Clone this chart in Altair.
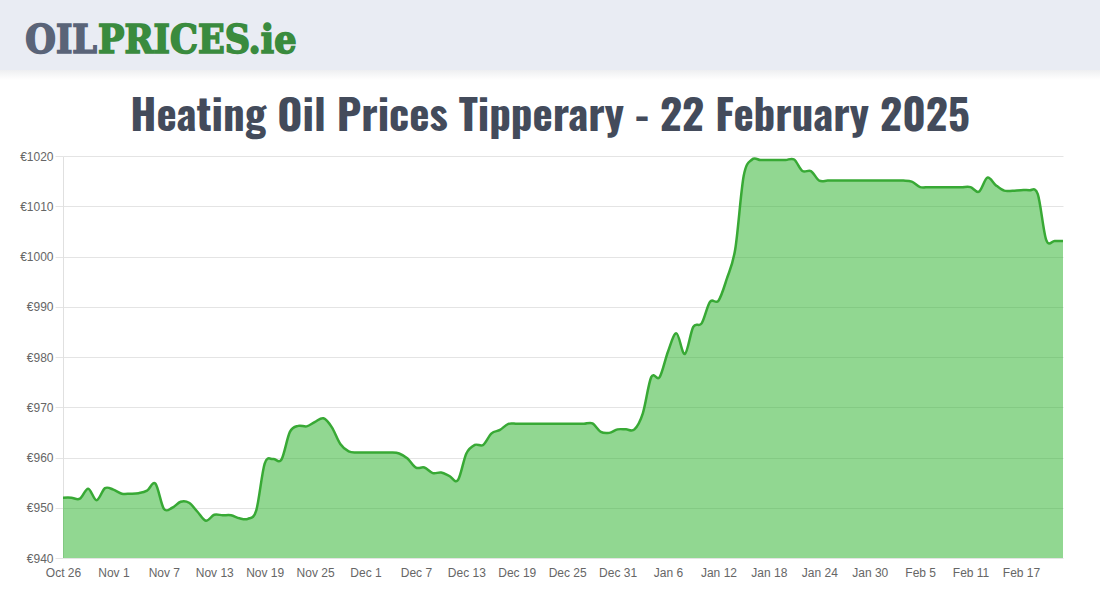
import altair as alt
import pandas as pd

# ---- data ----
start_date = "2024-10-26"
prices = [
    952, 952, 951.8, 953.8, 951.5, 953.9,            # Oct 26 - Oct 31
    953.6, 952.8, 952.8, 952.9, 953.4, 954.8,        # Nov 1 - Nov 6
    949.8, 950, 951.2, 951, 949.2, 947.4,            # Nov 7 - Nov 12
    948.6, 948.5, 948.5, 947.9, 947.8, 949.5,        # Nov 13 - Nov 18
    958.8, 959.7, 959.6, 965.1, 966.3, 966.2,        # Nov 19 - Nov 24
    967.1, 967.8, 966, 962.7, 961.2, 961,            # Nov 25 - Nov 30
    961, 961, 961, 961, 960.8, 959.8,                # Dec 1 - Dec 6
    958, 958, 956.9, 957, 956.3, 955.5,              # Dec 7 - Dec 12
    960.8, 962.5, 962.5, 964.8, 965.5, 966.7,        # Dec 13 - Dec 18
    966.7, 966.7, 966.7, 966.7, 966.7, 966.7,        # Dec 19 - Dec 24
    966.7, 966.7, 966.7, 966.8, 965.1, 964.9,        # Dec 25 - Dec 30
    965.6, 965.6, 965.6, 968.8, 976, 976,            # Dec 31 - Jan 5
    981.1, 984.7, 980.6, 986, 986.7, 991,            # Jan 6 - Jan 11
    991.2, 995.6, 1001.5, 1016, 1019.3, 1019.2,      # Jan 12 - Jan 17
    1019.2, 1019.2, 1019.2, 1019.3, 1017, 1017,      # Jan 18 - Jan 23
    1015.1, 1015.1, 1015.1, 1015.1, 1015.1, 1015.1,  # Jan 24 - Jan 29
    1015.1, 1015.1, 1015.1, 1015.1, 1015.1, 1014.9,  # Jan 30 - Feb 4
    1013.8, 1013.8, 1013.8, 1013.8, 1013.8, 1013.8,  # Feb 5 - Feb 10
    1013.8, 1012.9, 1015.7, 1014.2, 1013.1, 1013.1,  # Feb 11 - Feb 16
    1013.2, 1013.2, 1012.4, 1003.3, 1003.1, 1003.1,  # Feb 17 - Feb 22
]
tick_dates = [
    "2024-10-26", "2024-11-01", "2024-11-07", "2024-11-13", "2024-11-19",
    "2024-11-25", "2024-12-01", "2024-12-07", "2024-12-13", "2024-12-19",
    "2024-12-25", "2024-12-31", "2025-01-06", "2025-01-12", "2025-01-18",
    "2025-01-24", "2025-01-30", "2025-02-05", "2025-02-11", "2025-02-17",
]
y_ticks = [940, 950, 960, 970, 980, 990, 1000, 1010, 1020]
title_text = "Heating Oil Prices Tipperary - 22 February 2025"
logo_left = "OIL"
logo_right = "PRICES.ie"

dates = pd.date_range(start_date, periods=len(prices), freq="D")
df = pd.DataFrame({"date": dates.strftime("%Y-%m-%d"), "price": prices})


def ms(d):
    return int(pd.Timestamp(d, tz="UTC").timestamp() * 1000)


tick_ms = [ms(d) for d in tick_dates]
x_domain = [ms(dates[0].strftime("%Y-%m-%d")), ms(dates[-1].strftime("%Y-%m-%d"))]

W, H = 1000, 402
LEFT, TOP = 63, 156   # where the plot area sits on the page

x_enc = alt.X(
    "date:T",
    scale=alt.Scale(type="utc", domain=x_domain, nice=False),
    axis=alt.Axis(
        values=tick_ms, format="%b %-d", labelFlush=False, grid=False,
        ticks=False, domain=False, title=None, labelPadding=9,
        labelFont="Liberation Sans", labelFontSize=12, labelColor="#666666",
        labelOverlap=False,
    ),
)
y_enc = alt.Y(
    "price:Q",
    scale=alt.Scale(domain=[940, 1020], nice=False, zero=False),
    axis=alt.Axis(
        values=y_ticks, labelExpr="'€' + datum.value", grid=True,
        gridColor="#e4e4e4", gridWidth=1, tickColor="#e4e4e4", tickSize=8,
        domain=True, domainColor="#e0e0e0", title=None, labelPadding=2,
        labelFont="Liberation Sans", labelFontSize=12, labelColor="#666666",
    ),
)

area = alt.Chart(df).mark_area(
    interpolate="cardinal", color="#24af24", opacity=0.5
).encode(x=x_enc, y=y_enc, y2=alt.datum(940))

line = alt.Chart(df).mark_line(
    interpolate="cardinal", color="#38a935", strokeWidth=2.5
).encode(x="date:T", y="price:Q")

one = alt.Data(values=[{"k": 1}])

header = alt.Chart(one).mark_rect(color="#e9ecf3").encode(
    x=alt.value(-LEFT), x2=alt.value(1100 - LEFT),
    y=alt.value(-TOP), y2=alt.value(70 - TOP),
)
shadow = alt.Chart(one).mark_rect(
    color=alt.LinearGradient(
        gradient="linear",
        stops=[alt.GradientStop(color="#eeeff1", offset=0),
               alt.GradientStop(color="#ffffff", offset=1)],
        x1=0, x2=0, y1=0, y2=1,
    )
).encode(
    x=alt.value(-LEFT), x2=alt.value(1100 - LEFT),
    y=alt.value(70 - TOP), y2=alt.value(80 - TOP),
)
logo1 = alt.Chart(one).mark_text(
    text=logo_left, font="DejaVu Serif Condensed", fontWeight="bold",
    fontSize=39, color="#5a6478", stroke="#5a6478", strokeWidth=1.6,
    align="right", baseline="alphabetic",
).encode(x=alt.value(97 - LEFT), y=alt.value(53 - TOP))
logo2 = alt.Chart(one).mark_text(
    text=logo_right, font="DejaVu Serif Condensed", fontWeight="bold",
    fontSize=39, color="#3a8b3e", stroke="#3a8b3e", strokeWidth=1.6,
    align="left", baseline="alphabetic",
).encode(x=alt.value(98 - LEFT), y=alt.value(53 - TOP))
title = alt.Chart(one).mark_text(
    text=title_text,
    font="Oswald, 'Liberation Sans Narrow', 'DejaVu Sans Condensed', sans-serif",
    fontWeight="bold", fontSize=43, color="#434b5b",
    align="center", baseline="alphabetic",
).encode(x=alt.value(550 - LEFT), y=alt.value(131 - TOP))

chart = alt.layer(header, shadow, logo1, logo2, title, area, line).properties(
    width=W, height=H, padding=0, background="#ffffff",
).configure_view(strokeWidth=0)

chart.save("out.html", embed_options={"renderer": "svg", "actions": False})
